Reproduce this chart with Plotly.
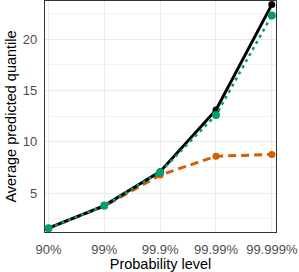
import plotly.graph_objects as go

levels = ["90%", "99%", "99.9%", "99.99%", "99.999%"]
x_pos = [0, 1, 2, 3, 4]
black_vals = [1.60, 3.80, 7.10, 13.10, 23.35]
green_vals = [1.60, 3.80, 7.05, 12.60, 22.30]
orange_vals = [1.60, 3.75, 6.77, 8.60, 8.78]

fig = go.Figure()
fig.add_trace(go.Scatter(x=x_pos, y=orange_vals, mode="lines+markers", cliponaxis=False,
                         line=dict(color="#D55E00", width=3, dash="8px,5px"),
                         marker=dict(color="#D55E00", size=7), showlegend=False))
fig.add_trace(go.Scatter(x=x_pos, y=black_vals, mode="lines+markers", cliponaxis=False,
                         line=dict(color="#000000", width=3),
                         marker=dict(color="#000000", size=7), showlegend=False))
fig.add_trace(go.Scatter(x=x_pos, y=green_vals, mode="lines+markers", cliponaxis=False,
                         line=dict(color="#009E73", width=2.5, dash="3px,4px"),
                         marker=dict(color="#009E73", size=8), showlegend=False))

font = "Liberation Sans, Arial, sans-serif"
fig.update_layout(
    width=299, height=272,
    margin=dict(l=45, r=23, t=1, b=40, autoexpand=False),
    plot_bgcolor="white", paper_bgcolor="white",
    font=dict(family=font, color="#4D4D4D"),
    xaxis=dict(range=[-0.063, 4.075], tickvals=x_pos, ticktext=levels,
               showgrid=True, gridcolor="#EBEBEB", gridwidth=1, automargin=False,
               zeroline=False, showline=True, linecolor="#333333", linewidth=1.2,
               mirror=True, ticks="outside", ticklen=5, tickcolor="rgba(0,0,0,0)",
               tickfont=dict(size=13, color="#4D4D4D"),
               title=dict(text="Probability level", font=dict(size=14.5, color="#000000"), standoff=0)),
    yaxis=dict(range=[1.23, 23.70], tickvals=[5, 10, 15, 20],
               showgrid=True, gridcolor="#EBEBEB", gridwidth=1, automargin=False,
               minor=dict(tickvals=[2.5, 7.5, 12.5, 17.5, 22.5], showgrid=True, gridcolor="#F2F2F2", gridwidth=1),
               zeroline=False, showline=True, linecolor="#333333", linewidth=1.2,
               mirror=True, ticks="outside", ticklen=4, tickcolor="rgba(0,0,0,0)",
               tickfont=dict(size=13, color="#4D4D4D"),
               title=dict(text="Average predicted quantile", font=dict(size=14.5, color="#000000"), standoff=2)),
)
fig.write_html("out.html", config={"displayModeBar": False},
               post_script="document.body.style.margin='0';document.body.style.overflow='hidden';")
